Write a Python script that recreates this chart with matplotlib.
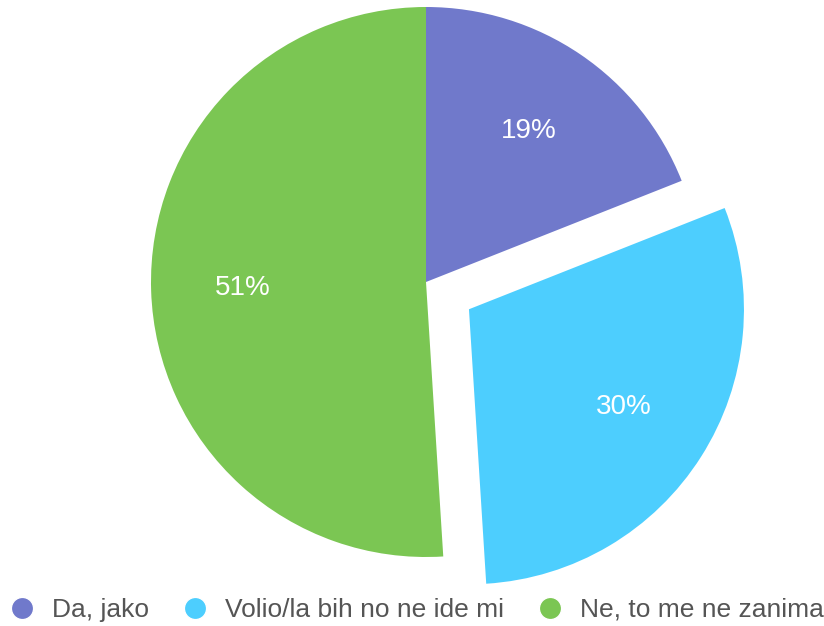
import matplotlib.pyplot as plt
from matplotlib.lines import Line2D

labels = ['Da, jako', 'Volio/la bih no ne ide mi', 'Ne, to me ne zanima']
values = [19, 30, 51]
colors = ['#7079CB', '#4DCEFE', '#7BC653']
explode = [0, 0.185, 0]

fig = plt.figure(figsize=(8.24, 6.26), dpi=100)
ax = fig.add_axes([0, 0, 1, 1])

wedges, texts, autotexts = ax.pie(
    values, colors=colors, explode=explode, startangle=90, counterclock=False,
    radius=1, autopct='%d%%', pctdistance=0.665,
    textprops={'color': 'white', 'fontsize': 20, 'family': 'Liberation Sans'})

ax.set_xlim(-426 / 275, (824 - 426) / 275)
ax.set_ylim(-344 / 275, 282 / 275)
ax.set_aspect('auto')
ax.axis('off')

# legend with round markers along the bottom
handles = [Line2D([0], [0], marker='o', color='w', markerfacecolor=c,
                  markersize=16, linestyle='None') for c in colors]
fig.legend(handles, labels, loc='center', ncol=3, frameon=False,
           bbox_to_anchor=(0.505, 16 / 626), handlelength=1.0,
           handletextpad=0.65, columnspacing=1.23,
           prop={'family': 'Liberation Sans', 'size': 19}, labelcolor='#555555')

fig.savefig('out.png', dpi=100)
